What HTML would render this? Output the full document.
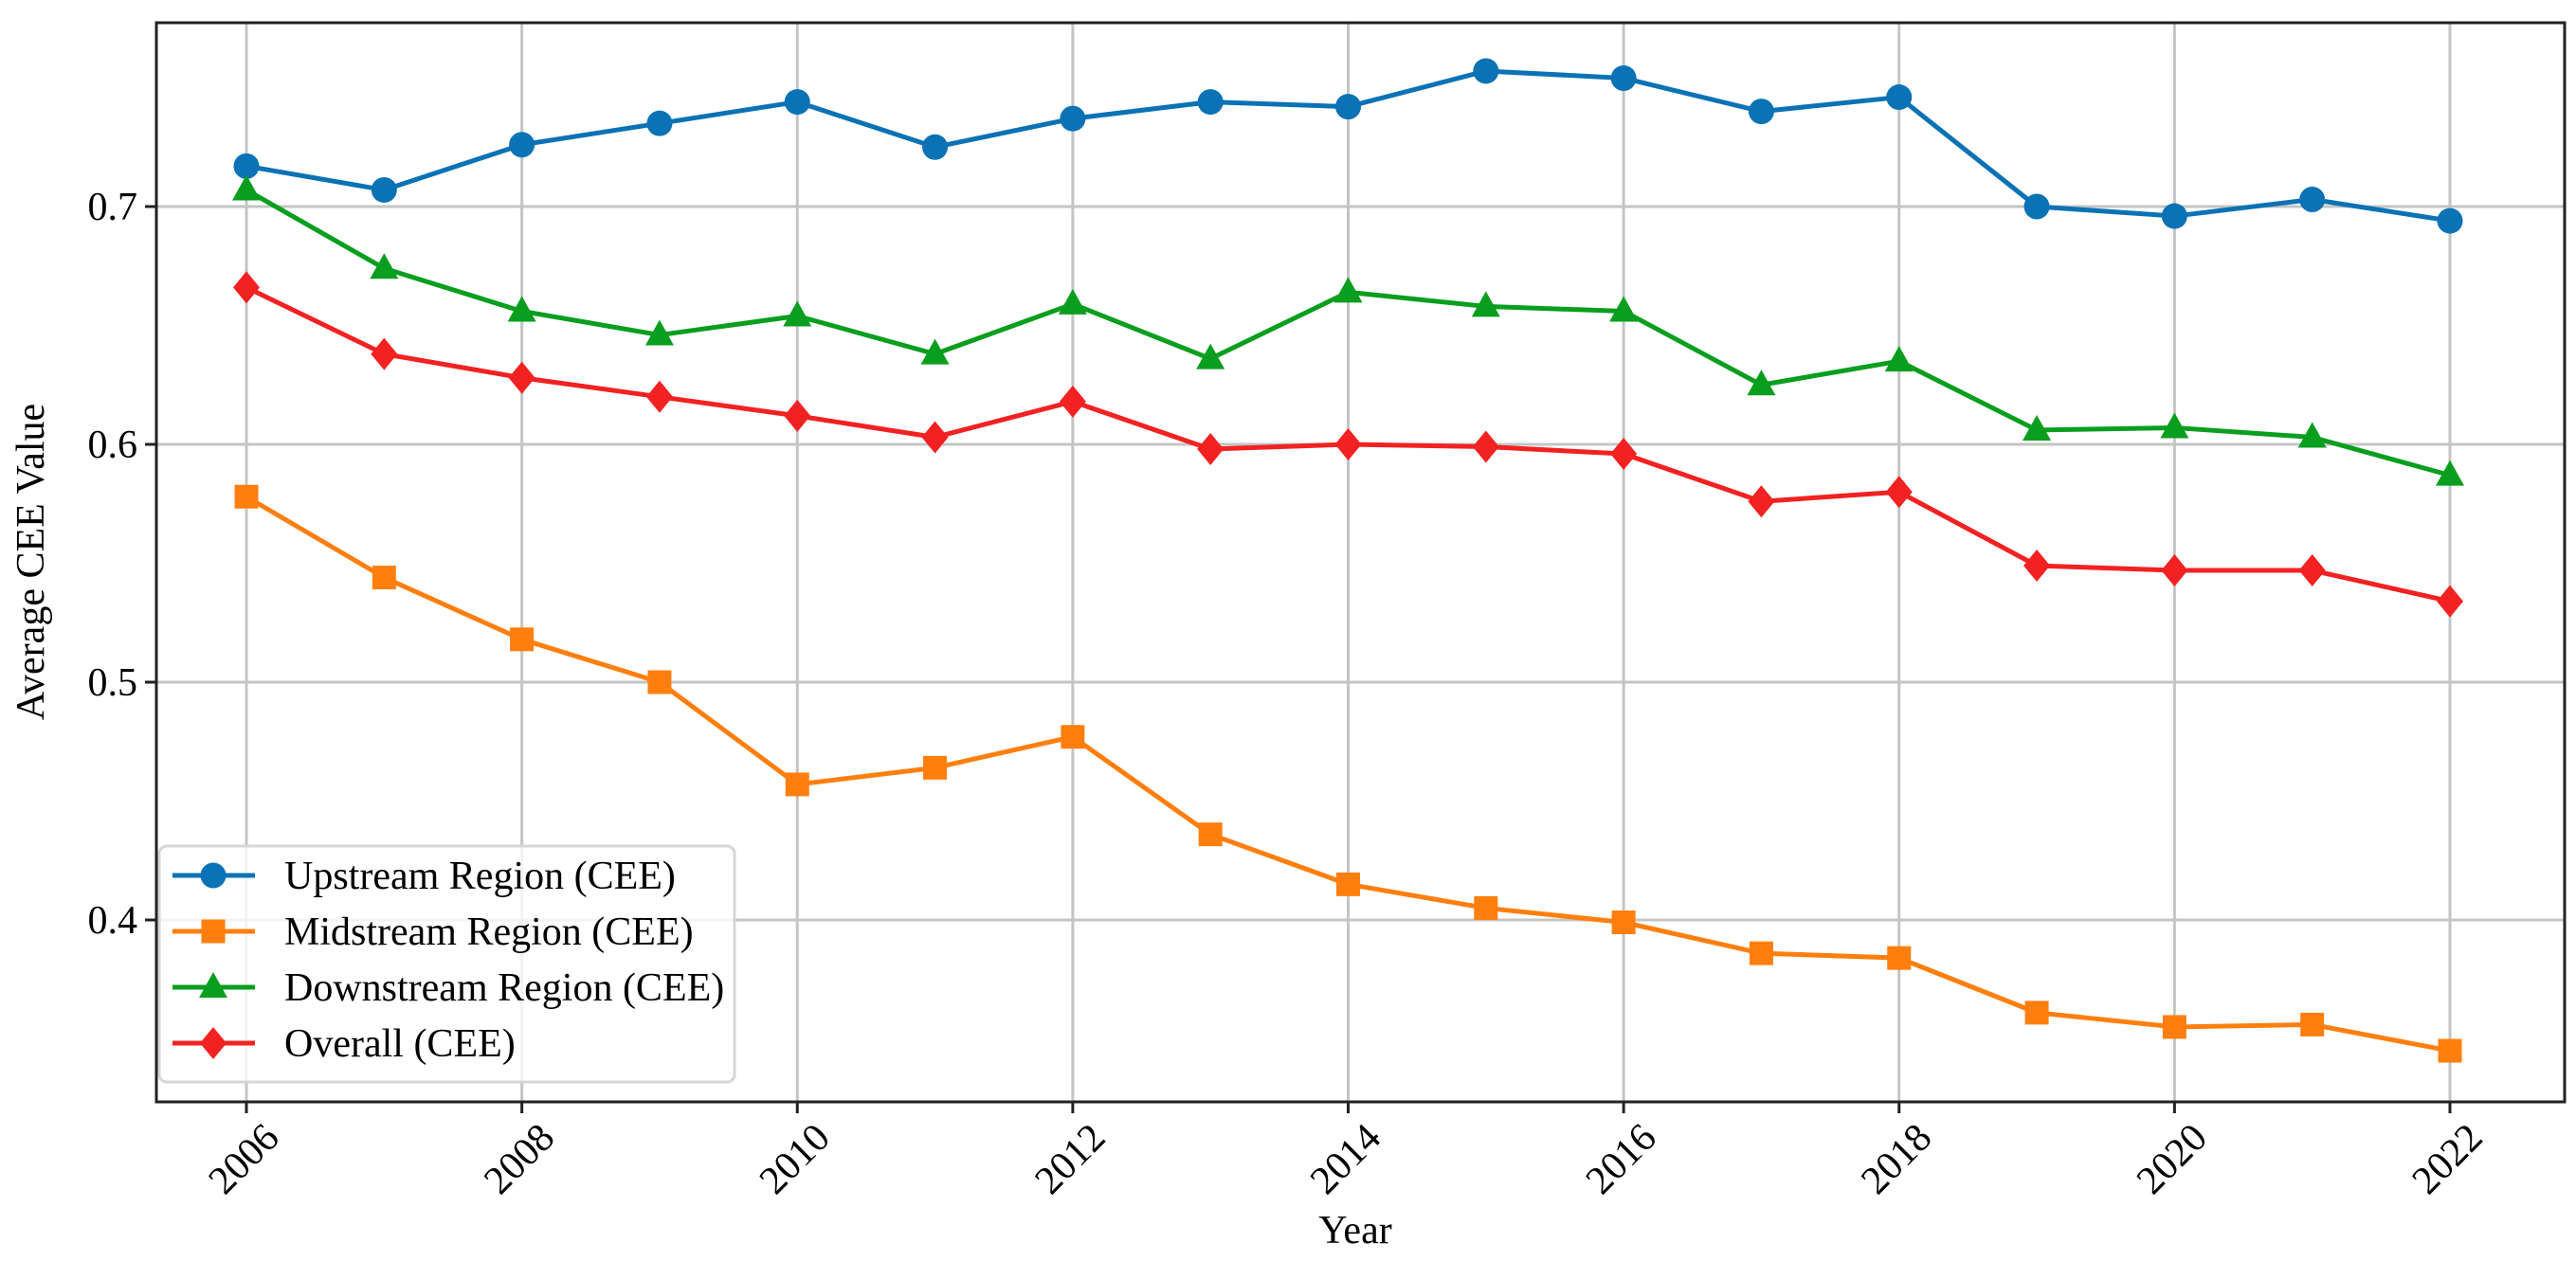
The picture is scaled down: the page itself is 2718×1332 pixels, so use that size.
<!DOCTYPE html>
<html><head><meta charset="utf-8"><style>
html,body{margin:0;padding:0;background:#fff;}
svg{display:block;font-family:"Liberation Serif","DejaVu Serif",serif;}
</style></head><body>
<svg id="chart" width="2718" height="1332" viewBox="0 0 2718 1332" xmlns="http://www.w3.org/2000/svg">
<rect width="2718" height="1332" fill="#fff"/>
<g id="grid"></g>
<g id="series"></g>
<rect x="165" y="24" width="2541" height="1139" fill="none" stroke="#222" stroke-width="3"/>
<g id="ticks"></g>
<text x="1430" y="1312" font-size="42" text-anchor="middle">Year</text>
<text transform="translate(46,593) rotate(-90)" font-size="42" text-anchor="middle">Average CEE Value</text>
<g id="legend"></g>
</svg>
<script>
const years = [2006,2007,2008,2009,2010,2011,2012,2013,2014,2015,2016,2017,2018,2019,2020,2021,2022];
const upstream = [0.717,0.707,0.726,0.735,0.744,0.725,0.737,0.744,0.742,0.757,0.754,0.740,0.746,0.700,0.696,0.703,0.694];
const midstream = [0.578,0.544,0.518,0.500,0.457,0.464,0.477,0.436,0.415,0.405,0.399,0.386,0.384,0.361,0.355,0.356,0.345];
const downstream = [0.707,0.674,0.656,0.646,0.654,0.638,0.659,0.636,0.664,0.658,0.656,0.625,0.635,0.606,0.607,0.603,0.587];
const overall = [0.666,0.638,0.628,0.620,0.612,0.603,0.618,0.598,0.600,0.599,0.596,0.576,0.580,0.549,0.547,0.547,0.534];
const xTicks = [2006,2008,2010,2012,2014,2016,2018,2020,2022];
const yTicks = [0.4,0.5,0.6,0.7];
const seriesNames = ["Upstream Region (CEE)","Midstream Region (CEE)","Downstream Region (CEE)","Overall (CEE)"];

const NS="http://www.w3.org/2000/svg";
const L=165,R=2706,T=24,B=1163;
const X0PX=260,X1PX=2585;
const y0=0.3235,y1=0.7773;
function xs(v){return X0PX+(v-2006)/(2022-2006)*(X1PX-X0PX);}
function ys(v){return B-(v-y0)/(y1-y0)*(B-T);}
function mk(tag,attrs,parent){const e=document.createElementNS(NS,tag);for(const k in attrs)e.setAttribute(k,attrs[k]);parent.appendChild(e);return e;}
const grid=document.getElementById('grid'),ticks=document.getElementById('ticks'),ser=document.getElementById('series'),leg=document.getElementById('legend');

xTicks.forEach(t=>{
  const gl=mk('line',{x1:xs(t),x2:xs(t),y1:T,y2:B,stroke:'#c4c4c4','stroke-width':3},grid);
  
  
  const tk=mk('line',{x1:xs(t),x2:xs(t),y1:B,y2:B+12,stroke:'#222','stroke-width':3},ticks);
  
  
  const tl=mk('text',{transform:`translate(${xs(t)},${B+63}) rotate(-45)`,'font-size':42,'text-anchor':'middle','dominant-baseline':'middle'},ticks);
  tl.textContent=t;
  
  
});
yTicks.forEach(t=>{
  const gl=mk('line',{x1:L,x2:R,y1:ys(t),y2:ys(t),stroke:'#c4c4c4','stroke-width':3},grid);
  
  
  const tk=mk('line',{x1:L-12,x2:L,y1:ys(t),y2:ys(t),stroke:'#222','stroke-width':3},ticks);
  
  
  const tl=mk('text',{x:L-20,y:ys(t)+14,'font-size':42,'text-anchor':'end'},ticks);
  tl.textContent=t.toFixed(1);
  
  
});

function marker(shape,cx,cy,color,parent){
  let e;
  if(shape==='circle') e=mk('ellipse',{cx:cx,cy:cy,rx:13.5,ry:13.5,fill:color},parent);
  else if(shape==='square') e=mk('rect',{x:cx-12.5,y:cy-12.5,width:25,height:25,fill:color},parent);
  else if(shape==='triangle') e=mk('polygon',{points:`${cx},${cy-16} ${cx+15},${cy+11} ${cx-15},${cy+11}`,fill:color},parent);
  else e=mk('polygon',{points:`${cx},${cy-17} ${cx+14},${cy} ${cx},${cy+17} ${cx-14},${cy}`,fill:color},parent);
  return e;
}
const defs=[[upstream,'#0a72b5','circle','upstream'],[midstream,'#ff7f0e','square','midstream'],[downstream,'#0a9e1e','triangle','downstream'],[overall,'#f22222','diamond','overall']];
defs.forEach(([vals,color,shape,key])=>{
  const g=mk('g',{},ser);
  
  
  const pts=years.map((y,i)=>xs(y)+','+ys(vals[i])).join(' ');
  const pl=mk('polyline',{points:pts,fill:'none',stroke:color,'stroke-width':5,'stroke-linejoin':'round'},g);
  
  
  years.forEach((y,i)=>{
    const m=marker(shape,xs(y),ys(vals[i]),color,g);
    
    
  });
});

const box=mk('rect',{x:168,y:893,width:607,height:249,rx:8,fill:'rgba(255,255,255,0.8)',stroke:'#d6d6d6','stroke-width':3},leg);


defs.forEach(([vals,color,shape,key],i)=>{
  const cy=924+i*59;
  const g=mk('g',{},leg);
  
  
  mk('line',{x1:182,x2:269,y1:cy,y2:cy,stroke:color,'stroke-width':5},g);
  marker(shape,225,cy,color,g);
  const t=mk('text',{x:300,y:cy+14,'font-size':42},g);
  t.textContent=seriesNames[i];
  
  
});
</script>
</body></html>
